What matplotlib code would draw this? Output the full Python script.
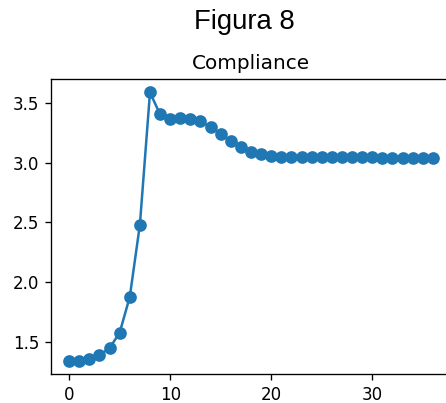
import numpy as np
import matplotlib
matplotlib.use('Agg')
import matplotlib.pyplot as plt

# compliance per step
steps = list(range(37))
compliance = [1.34, 1.34, 1.355, 1.385, 1.445, 1.575, 1.875, 2.48, 3.59,
              3.405, 3.37, 3.375, 3.37, 3.35, 3.297, 3.24, 3.182, 3.13,
              3.093, 3.07, 3.056, 3.05, 3.045, 3.048, 3.045, 3.045, 3.045,
              3.045, 3.045, 3.045, 3.045, 3.042, 3.042, 3.042, 3.042,
              3.042, 3.042]

fig = plt.figure(figsize=(446 / 120, 403 / 120), dpi=120)
# axes box runs past the right edge, as in the cropped original
ax = fig.add_axes([51 / 446, 1 - 374 / 403, 400 / 446, 295 / 403])
ax.plot(steps, compliance, marker='o', ms=6.6, color='#1f77b4')
ax.set_title('Compliance', fontsize=12)
ax.set_yticks([1.5, 2.0, 2.5, 3.0, 3.5])
ax.set_xticks([0, 10, 20, 30])

fig.text(244 / 446, 1 - 29 / 403, 'Figura 8', ha='center', va='baseline',
         fontsize=16.5, family=['Liberation Sans', 'DejaVu Sans'])

fig.savefig('out.png', dpi=120)
